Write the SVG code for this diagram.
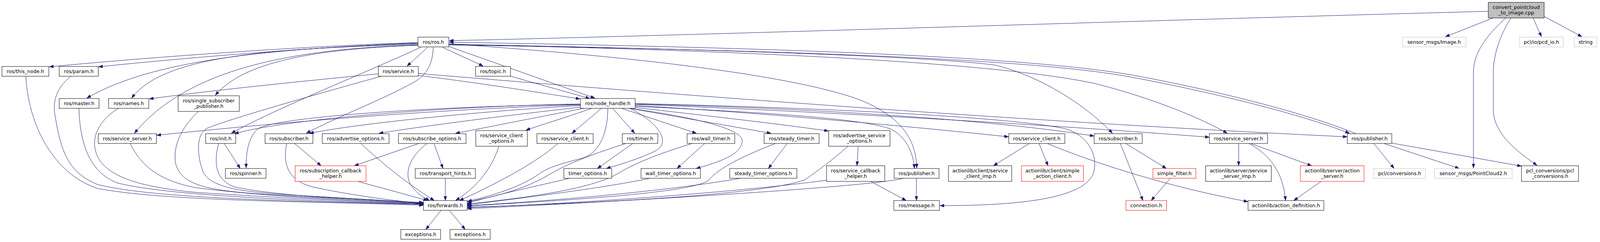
<svg xmlns="http://www.w3.org/2000/svg" width="4247" height="619" viewBox="0 0 4247 619">
<style>
.n rect{fill:#fff;stroke:#000;stroke-width:1}
.n.r rect{stroke:#ff0000}
.n.g rect{stroke:#bfbfbf}
.n.c rect{fill:#bfbfbf}
.n text{font-family:"DejaVu Sans","Liberation Sans",sans-serif;font-size:12.6px;fill:#000;text-anchor:middle}
#edges path{fill:none;stroke:#191970;stroke-width:1;marker-end:url(#a)}
</style>
<defs>
<marker id="a" viewBox="0 0 11 8" refX="11" refY="4" markerWidth="11" markerHeight="8" markerUnits="userSpaceOnUse" orient="auto"><path d="M0,0 L11,4 L0,8 z" fill="#191970" stroke="#191970" stroke-width="0.5"/></marker>
</defs>
<rect width="4247" height="619" fill="#fff"/>
<g id="edges">
<path d="M3810,29 C3000,50 1800,90 1150,104"/>
<path d="M3855,46 C3800,95 3772,140 3772,185 L3772,430"/>
<path d="M3868,46 C3840,90 3823,140 3823,185 L3823,280 C3823,340 3880,385 3935,423"/>
<path d="M3822,46 L3700,94"/>
<path d="M3925,46 L3946,94"/>
<path d="M3953,42 L4050,94"/>
<path d="M1070,109 C850,115 450,140 126,171"/>
<path d="M1070,110 C850,118 500,145 252,171"/>
<path d="M1070,111 C650,125 380,160 222,251"/>
<path d="M1070,113 C700,125 420,140 337,251"/>
<path d="M1070,115 C750,125 480,175 344,341"/>
<path d="M1070,116 C800,125 620,160 551,244"/>
<path d="M1077,121 C950,180 700,280 592,341"/>
<path d="M1109,121 C1108,160 1095,190 1060,210 C980,255 860,300 784,341"/>
<path d="M1095,121 L1042,169"/>
<path d="M1133,121 L1237,169"/>
<path d="M1149,119 L1523,251"/>
<path d="M1149,112 C1700,150 2050,200 2200,255 C2300,295 2345,350 2347,430"/>
<path d="M1149,113 C1800,125 2400,145 2550,167 C2680,200 2790,280 2848,341"/>
<path d="M1149,114 C1900,128 2550,160 2800,213 C2950,250 3080,305 3142,341"/>
<path d="M1149,115 C2000,128 2650,150 2900,198 C3150,245 3350,300 3455,341"/>
<path d="M3471,342 C3370,300 3170,243 2915,195 C2650,145 2000,122 1150,108"/>
<path d="M1486,266 C1200,270 750,300 600,342"/>
<path d="M1486,267 C1100,272 700,300 660,330 C635,352 630,390 630,430"/>
<path d="M1486,268 C1100,280 700,315 401,346"/>
<path d="M1486,270 C1300,280 950,310 792,341"/>
<path d="M1487,274 C1300,295 1100,320 970,341"/>
<path d="M1495,277 C1350,305 1250,325 1166,341"/>
<path d="M1515,277 C1450,300 1390,318 1346,333"/>
<path d="M1540,277 L1464,341"/>
<path d="M1568,277 L1625,341"/>
<path d="M1591,277 L1783,341"/>
<path d="M1611,277 L1974,341"/>
<path d="M1626,275 C1800,295 1980,315 2121,335"/>
<path d="M1556,277 C1556,330 1540,390 1490,405 C1430,420 1400,430 1380,445 C1330,480 1260,500 1197,515"/>
<path d="M1612,277 C1680,310 1720,360 1680,385 C1640,405 1590,420 1552,431"/>
<path d="M1611,277 C1780,300 1900,330 1900,360 C1900,395 1840,415 1782,431"/>
<path d="M1626,270 C1900,285 2300,320 2582,350"/>
<path d="M1626,266 C2000,275 2500,300 2801,348"/>
<path d="M1626,267 C2100,285 2700,320 3096,351"/>
<path d="M1626,265 C2100,275 2600,300 2730,330 C2790,350 2810,400 2800,440 C2780,510 2600,526 2406,526"/>
<path d="M1626,272 C1900,285 2200,300 2280,330 C2320,350 2338,390 2341,431"/>
<path d="M968,189 C800,205 550,230 382,253"/>
<path d="M1071,193 C1250,215 1400,240 1485,253"/>
<path d="M1071,188 C1700,240 2600,310 3449,350"/>
<path d="M976,195 C850,230 600,300 530,328 C500,345 505,400 520,440 C540,480 620,490 720,497 C850,505 980,512 1084,519"/>
<path d="M1307,195 L1510,252"/>
<path d="M66,195 C75,340 150,450 250,482 C420,515 800,515 1084,525"/>
<path d="M182,195 C150,220 135,250 140,290 C155,380 170,440 250,472 C400,510 800,515 1084,523"/>
<path d="M202,277 C205,370 230,440 300,468 C450,505 850,515 1084,522"/>
<path d="M303,277 C250,310 225,360 255,410 C290,460 380,480 500,492 C700,505 900,515 1084,521"/>
<path d="M333,367 C360,420 400,460 500,480 C700,505 900,512 1084,520"/>
<path d="M508,285 C470,320 440,370 450,420 C465,470 520,485 650,495 C800,505 950,512 1084,519"/>
<path d="M560,367 C548,410 548,460 600,478 C700,500 900,510 1084,518"/>
<path d="M734,367 C725,410 730,460 800,478 C900,500 1000,512 1084,521"/>
<path d="M924,367 C980,420 1050,475 1112,513"/>
<path d="M1093,367 C1050,400 1035,440 1050,470 C1065,495 1085,505 1100,513"/>
<path d="M1072,367 L907,424"/>
<path d="M1111,367 L1134,431"/>
<path d="M754,367 L822,424"/>
<path d="M916,464 L1095,513"/>
<path d="M1140,456 L1140,513"/>
<path d="M1277,374 C1260,430 1220,480 1166,513"/>
<path d="M1428,367 C1370,420 1250,480 1176,513"/>
<path d="M1602,367 C1500,400 1450,420 1400,450 C1340,485 1260,505 1196,516"/>
<path d="M1620,367 L1529,431"/>
<path d="M1458,456 C1380,475 1280,495 1196,520"/>
<path d="M1804,367 L1733,431"/>
<path d="M1772,367 C1680,395 1620,420 1580,445 C1500,490 1300,510 1196,522"/>
<path d="M1664,456 C1550,480 1350,505 1196,524"/>
<path d="M2015,367 L1967,431"/>
<path d="M1985,367 C1900,400 1840,430 1815,460 C1780,495 1400,515 1196,527"/>
<path d="M1896,456 C1700,490 1400,515 1196,526"/>
<path d="M2171,374 C2130,410 2090,440 2060,460 C1950,500 1500,520 1196,530"/>
<path d="M2116,461 C1900,490 1500,520 1196,531"/>
<path d="M2312,456 C2250,475 1700,510 1196,534"/>
<path d="M1129,538 L1090,587"/>
<path d="M1150,538 L1191,587"/>
<path d="M2197,374 L2194,424"/>
<path d="M2229,464 L2320,513"/>
<path d="M2346,456 L2346,513"/>
<path d="M2635,367 L2543,424"/>
<path d="M2660,367 L2683,424"/>
<path d="M2681,367 C2760,400 2950,470 3195,516"/>
<path d="M2882,367 L2986,431"/>
<path d="M2868,367 L2926,513"/>
<path d="M2996,456 L2947,513"/>
<path d="M3171,367 L3171,424"/>
<path d="M3197,367 C3250,395 3285,440 3291,513"/>
<path d="M3202,367 L3358,424"/>
<path d="M3382,464 L3312,513"/>
<path d="M3517,367 L3569,431"/>
<path d="M3543,367 L3736,431"/>
<path d="M3563,366 L3895,425"/>
<path d="M574,367 L615,431"/>
</g>
<g id="cpp" class="n c"><rect x="3810" y="6" width="143" height="40"/><text x="3881.5" y="22.5">convert_pointcloud</text><text x="3881.5" y="37">_to_image.cpp</text></g>
<g id="ros_ros" class="n"><rect x="1070" y="95" width="79" height="25"/><text x="1109.5" y="112">ros/ros.h</text></g>
<g id="sensor_image" class="n g"><rect x="3590" y="95" width="163" height="25"/><text x="3671.5" y="112">sensor_msgs/Image.h</text></g>
<g id="pcd_io" class="n g"><rect x="3890" y="95" width="112" height="25"/><text x="3946" y="112">pcl/io/pcd_io.h</text></g>
<g id="string" class="n g"><rect x="4030" y="95" width="58" height="25"/><text x="4059" y="112">string</text></g>
<g id="this_node" class="n"><rect x="5" y="170" width="120" height="25"/><text x="65" y="187">ros/this_node.h</text></g>
<g id="param" class="n"><rect x="151.5" y="170" width="100" height="25"/><text x="201.5" y="187">ros/param.h</text></g>
<g id="service" class="n"><rect x="968.5" y="170" width="102.5" height="25"/><text x="1019.75" y="187">ros/service.h</text></g>
<g id="topic" class="n"><rect x="1217.5" y="170" width="89.5" height="25"/><text x="1262.25" y="187">ros/topic.h</text></g>
<g id="master" class="n"><rect x="151.5" y="252" width="102" height="25"/><text x="202.5" y="269">ros/master.h</text></g>
<g id="names" class="n"><rect x="278" y="252" width="103" height="25"/><text x="329.5" y="269">ros/names.h</text></g>
<g id="ssp" class="n"><rect x="456" y="245" width="156.5" height="40"/><text x="534.25" y="261.5">ros/single_subscriber</text><text x="534.25" y="276">_publisher.h</text></g>
<g id="node_handle" class="n"><rect x="1486" y="252" width="140" height="25"/><text x="1556" y="269">ros/node_handle.h</text></g>
<g id="service_server_l" class="n"><rect x="251.5" y="342" width="149" height="25"/><text x="326" y="359">ros/service_server.h</text></g>
<g id="init" class="n"><rect x="526.5" y="342" width="77" height="25"/><text x="565" y="359">ros/init.h</text></g>
<g id="subscriber_l" class="n"><rect x="678.5" y="342" width="122.5" height="25"/><text x="739.75" y="359">ros/subscriber.h</text></g>
<g id="advertise_options" class="n"><rect x="825" y="342" width="171" height="25"/><text x="910.5" y="359">ros/advertise_options.h</text></g>
<g id="subscribe_options" class="n"><rect x="1020" y="342" width="173" height="25"/><text x="1106.5" y="359">ros/subscribe_options.h</text></g>
<g id="service_client_options" class="n"><rect x="1218" y="334" width="132" height="40"/><text x="1284" y="350.5">ros/service_client</text><text x="1284" y="365">_options.h</text></g>
<g id="service_client_l" class="n"><rect x="1374.5" y="342" width="144" height="25"/><text x="1446.5" y="359">ros/service_client.h</text></g>
<g id="timer" class="n"><rect x="1593" y="342" width="91" height="25"/><text x="1638.5" y="359">ros/timer.h</text></g>
<g id="wall_timer" class="n"><rect x="1759" y="342" width="122" height="25"/><text x="1820" y="359">ros/wall_timer.h</text></g>
<g id="steady_timer" class="n"><rect x="1956" y="342" width="141" height="25"/><text x="2026.5" y="359">ros/steady_timer.h</text></g>
<g id="advertise_service_options" class="n"><rect x="2121.5" y="334" width="157" height="40"/><text x="2200" y="350.5">ros/advertise_service</text><text x="2200" y="365">_options.h</text></g>
<g id="service_client_r" class="n"><rect x="2582.5" y="342" width="143.5" height="25"/><text x="2654.25" y="359">ros/service_client.h</text></g>
<g id="subscriber_r" class="n"><rect x="2801" y="342" width="123" height="25"/><text x="2862.5" y="359">ros/subscriber.h</text></g>
<g id="service_server_r" class="n"><rect x="3096" y="342" width="149" height="25"/><text x="3170.5" y="359">ros/service_server.h</text></g>
<g id="publisher_r" class="n"><rect x="3449" y="342" width="114" height="25"/><text x="3506" y="359">ros/publisher.h</text></g>
<g id="spinner" class="n"><rect x="577" y="431" width="104" height="25"/><text x="629" y="448">ros/spinner.h</text></g>
<g id="subscription_callback_helper" class="n r"><rect x="755.5" y="424" width="181.5" height="40"/><text x="846.25" y="440.5">ros/subscription_callback</text><text x="846.25" y="455">_helper.h</text></g>
<g id="transport_hints" class="n"><rect x="1063" y="431" width="154" height="25"/><text x="1140" y="448">ros/transport_hints.h</text></g>
<g id="timer_options" class="n"><rect x="1443.5" y="431" width="122.5" height="25"/><text x="1504.75" y="448">timer_options.h</text></g>
<g id="wall_timer_options" class="n"><rect x="1641" y="431" width="152" height="25"/><text x="1717" y="448">wall_timer_options.h</text></g>
<g id="steady_timer_options" class="n"><rect x="1868" y="431" width="172" height="25"/><text x="1954" y="448">steady_timer_options.h</text></g>
<g id="service_callback_helper" class="n"><rect x="2116" y="424" width="149" height="40"/><text x="2190.5" y="440.5">ros/service_callback</text><text x="2190.5" y="455">_helper.h</text></g>
<g id="publisher_mid" class="n"><rect x="2289" y="431" width="115" height="25"/><text x="2346.5" y="448">ros/publisher.h</text></g>
<g id="service_client_imp" class="n"><rect x="2428" y="424" width="162" height="40"/><text x="2509" y="440.5">actionlib/client/service</text><text x="2509" y="455">_client_imp.h</text></g>
<g id="simple_action_client" class="n r"><rect x="2615" y="424" width="158.5" height="40"/><text x="2694.25" y="440.5">actionlib/client/simple</text><text x="2694.25" y="455">_action_client.h</text></g>
<g id="simple_filter" class="n r"><rect x="2951.5" y="431" width="110" height="25"/><text x="3006.5" y="448">simple_filter.h</text></g>
<g id="service_server_imp" class="n"><rect x="3086.5" y="424" width="168" height="40"/><text x="3170.5" y="440.5">actionlib/server/service</text><text x="3170.5" y="455">_server_imp.h</text></g>
<g id="action_server" class="n r"><rect x="3329" y="424" width="163" height="40"/><text x="3410.5" y="440.5">actionlib/server/action</text><text x="3410.5" y="455">_server.h</text></g>
<g id="pcl_conversions_h" class="n g"><rect x="3517" y="431" width="132" height="25"/><text x="3583" y="448">pcl/conversions.h</text></g>
<g id="pointcloud2" class="n g"><rect x="3672.5" y="431" width="198.5" height="25"/><text x="3771.75" y="448">sensor_msgs/PointCloud2.h</text></g>
<g id="pcl_conversions" class="n"><rect x="3895" y="424" width="146" height="40"/><text x="3968" y="440.5">pcl_conversions/pcl</text><text x="3968" y="455">_conversions.h</text></g>
<g id="forwards" class="n"><rect x="1084" y="513" width="112" height="25"/><text x="1140" y="530">ros/forwards.h</text></g>
<g id="message" class="n"><rect x="2288" y="513" width="117" height="25"/><text x="2346.5" y="530">ros/message.h</text></g>
<g id="connection" class="n r"><rect x="2882.5" y="513" width="104" height="25"/><text x="2934.5" y="530">connection.h</text></g>
<g id="action_definition" class="n"><rect x="3195" y="513" width="194" height="25"/><text x="3292" y="530">actionlib/action_definition.h</text></g>
<g id="exceptions1" class="n"><rect x="1026" y="587" width="102" height="25"/><text x="1077" y="604">exceptions.h</text></g>
<g id="exceptions2" class="n"><rect x="1152" y="587" width="103" height="25"/><text x="1203.5" y="604">exceptions.h</text></g>
</svg>
